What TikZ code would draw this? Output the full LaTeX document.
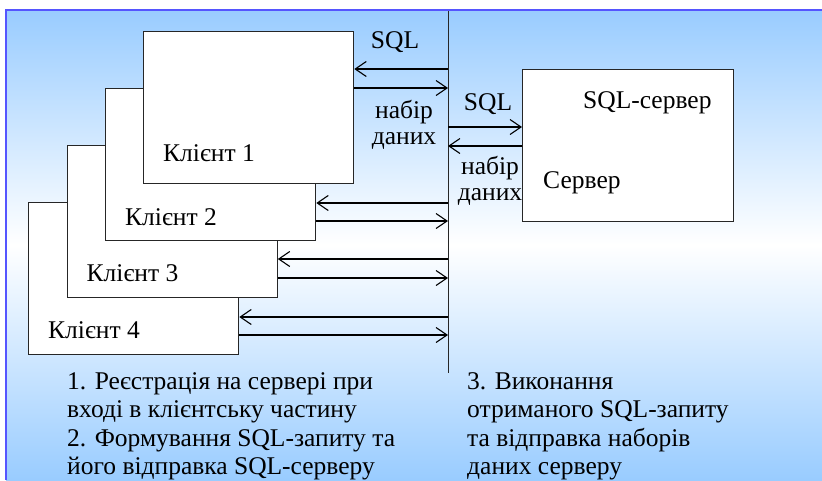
\documentclass[tikz,border=0pt]{standalone}
\usepackage{fontspec}
\setmainfont{Liberation Serif}
\usetikzlibrary{calc, positioning, arrows.meta}

\definecolor{bgblue}{RGB}{153,204,255}
\definecolor{framblue}{RGB}{85,85,255}

\tikzset{
    client/.style={draw=black!85, fill=white, line width=1.3pt, anchor=north west,
        minimum width=210pt, minimum height=152pt, inner sep=0pt},
    lbl/.style={inner sep=0pt, font=\fontsize{25.5}{28.6}\selectfont},
    arr/.style={line width=1.1pt, -{Straight Barb[length=11pt,width=15pt,line width=1.1pt]}},
}

\begin{document}
\begin{tikzpicture}[x=1pt,y=-1pt]
    \useasboundingbox (0,0) rectangle (822,480);
    % background
    \shade[top color=bgblue, bottom color=bgblue, middle color=white] (6,10) rectangle (822,480);
    \draw[framblue,line width=2pt] (6,480) -- (6,10) -- (822,10);

    % clients, back to front
    \node[client] (c4) at (28,202) {};
    \node[client] (c3) at (66.5,145) {};
    \node[client] (c2) at (105,88) {};
    \node[client] (c1) at (143,31) {};
    \node[client, minimum width=211pt, minimum height=152pt] (srv) at (522,69) {};

    \node[lbl, anchor=west] (c1l) at ($(c1.north west)+(20,122)$) {Клієнт 1};
    \node[lbl, anchor=west] (c2l) at ($(c2.north west)+(20,129)$) {Клієнт 2};
    \node[lbl, anchor=west] (c3l) at ($(c3.north west)+(20,128)$) {Клієнт 3};
    \node[lbl, anchor=west] (c4l) at ($(c4.north west)+(20,128)$) {Клієнт 4};
    \node[lbl, anchor=west] (srvl) at (583,103) {SQL-сервер};
    \node[lbl, anchor=west] (srvs) at (543,183) {Сервер};

    % bus
    \coordinate (bustop) at (448,11);
    \coordinate (busbot) at (448,373);
    \draw[line width=1pt, black!85] (bustop) -- (busbot);

    \coordinate (b1a) at (448,69);  \coordinate (b1b) at (448,88);
    \coordinate (b2a) at (448,203); \coordinate (b2b) at (448,221);
    \coordinate (b3a) at (448,259); \coordinate (b3b) at (448,278);
    \coordinate (b4a) at (448,317); \coordinate (b4b) at (448,335);
    \coordinate (bsa) at (448,127); \coordinate (bsb) at (448,146);

    \draw[arr] (b1a) -- (b1a -| c1.east);
    \draw[arr] (b1b -| c1.east) -- (b1b);
    \draw[arr] (b2a) -- (b2a -| c2.east);
    \draw[arr] (b2b -| c2.east) -- (b2b);
    \draw[arr] (b3a) -- (b3a -| c3.east);
    \draw[arr] (b3b -| c3.east) -- (b3b);
    \draw[arr] (b4a) -- (b4a -| c4.east);
    \draw[arr] (b4b -| c4.east) -- (b4b);
    \draw[arr] (bsa) -- (bsa -| srv.west);
    \draw[arr] (bsb -| srv.west) -- (bsb);

    \node[lbl] (sql1) at (395,42) {SQL};
    \node[lbl] (nab1) at (404,112) {набір};
    \node[lbl] (dan1) at (404,141) {даних};
    \node[lbl] (sql2) at (488,104) {SQL};
    \node[lbl] (nab2) at (490,168) {набір};
    \node[lbl] (dan2) at (490,197) {даних};

    % notes
    \node[lbl, anchor=north west, align=left] (note1) at (67,372)
        {1. Реєстрація на сервері при\\вході в клієнтську частину\\2. Формування SQL-запиту та\\його відправка SQL-серверу};
    \node[lbl, anchor=north west, align=left] (note2) at (467,372)
        {3. Виконання\\отриманого SQL-запиту\\та відправка наборів\\даних серверу};
\end{tikzpicture}
\end{document}
